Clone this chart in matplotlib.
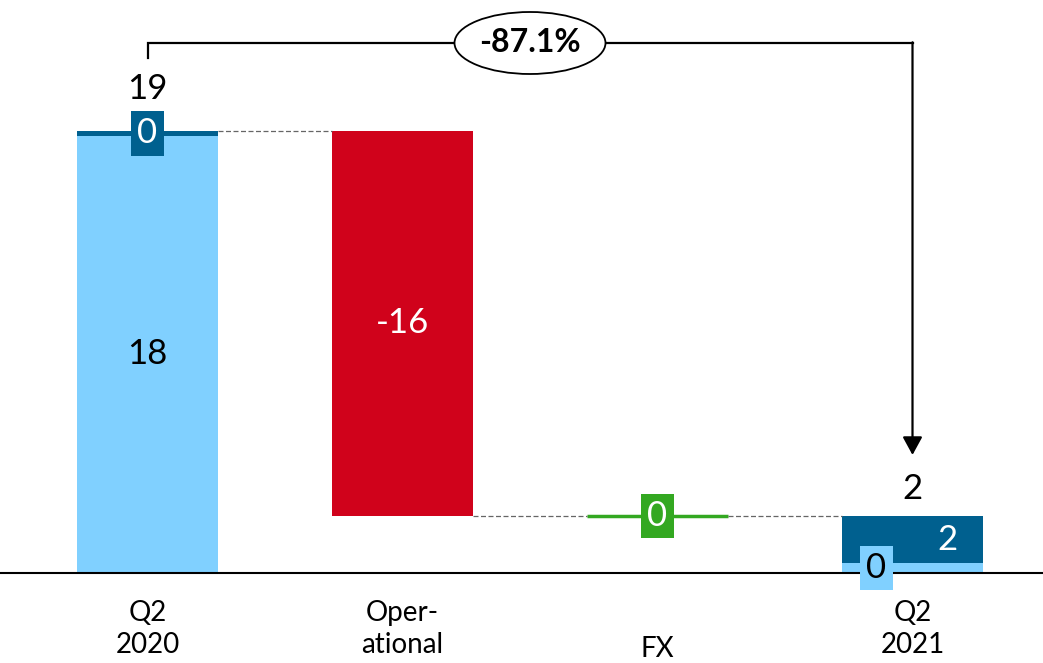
import matplotlib.pyplot as plt
from matplotlib.patches import Ellipse

# data
categories = ["Q2\n2020", "Oper-\national", "FX", "Q2\n2021"]
start_light = 18.4
start_dark = 0.2
operational = -16.2
fx = 0.0
end_light = 0.4
end_dark = 2.0

LIGHT = "#80D0FF"
DARK = "#00608F"
RED = "#D0021B"
GREEN = "#33A821"
FONT = ["Lato", "DejaVu Sans"]

start_total = start_light + start_dark
end_total = end_light + end_dark
after_op = start_total + operational
after_fx = after_op + fx
pct = (end_total / start_total - 1) * 100

# scale: px per unit in y, px per bar in x
PX_Y = 442 / start_total
PX_X = 255.0
W, H = 1043, 663

fig = plt.figure(figsize=(W / 100, H / 100), dpi=100)
ax = fig.add_axes([0, 0, 1, 1])
ax.axis("off")
ax.set_xlim(-147.5 / PX_X, (W - 147.5) / PX_X)
ax.set_ylim(-90 / PX_Y, (H - 90) / PX_Y)

bw = 141 / PX_X
ax.axhline(0, color="black", lw=1.5, zorder=5)

# bars
ax.bar(0, start_light, width=bw, color=LIGHT)
ax.bar(0, start_dark, bottom=start_light, width=bw, color=DARK)
ax.bar(1, operational, bottom=start_total, width=bw, color=RED)
ax.hlines(after_fx, 2 - bw / 2, 2 + bw / 2, color=GREEN, lw=2.5)
ax.bar(3, end_light, width=bw, color=LIGHT)
ax.bar(3, end_dark, bottom=end_light, width=bw, color=DARK)

# connectors
levels = [start_total, after_op, after_fx]
for i, lv in enumerate(levels):
    ax.plot([i + bw / 2, i + 1 - bw / 2], [lv, lv], color="#666666", lw=0.9,
            ls=(0, (4, 2)))

fs = 25
def label(x, y, s, color="black", box=None, dx=0, dy=0):
    kw = {}
    if box:
        kw["bbox"] = dict(boxstyle="square,pad=0.18", fc=box, ec="none")
    ax.annotate(s, (x, y), xytext=(dx, dy), textcoords="offset pixels",
                ha="center", va="center", fontsize=fs, color=color,
                family=FONT, zorder=6, **kw)

label(0, start_light / 2, f"{start_light:.0f}")
label(0, start_light + start_dark / 2, f"{start_dark:.0f}", "white", DARK)
label(0, start_total, f"{start_total:.0f}", dy=42)
label(1, start_total + operational / 2, f"{operational:.0f}", "white")
label(2, after_fx, f"{fx:.0f}", "white", GREEN)
label(3, end_light / 2, f"{end_light:.0f}", "black", LIGHT, dx=-36)
label(3, end_light + end_dark / 2, f"{end_dark:.0f}", "white", dx=35)
label(3, end_total, f"{end_total:.0f}", dy=27)

# x labels
for i, c in enumerate(categories):
    off = -56 if "\n" in c else -76
    ax.annotate(c, (i, 0), xytext=(0, off), textcoords="offset pixels",
                ha="center", va="center", fontsize=20, family=FONT,
                linespacing=1.25)

# bracket with change
y_low = start_total + 73 / PX_Y
y_top = start_total + 88 / PX_Y
y_tip = end_total + 61 / PX_Y
ax.plot([0, 0, 3], [y_low, y_top, y_top], color="black", lw=1.6,
        solid_joinstyle="miter", clip_on=False)
ax.annotate("", xy=(3, y_tip), xytext=(3, y_top + 0.03),
            arrowprops=dict(arrowstyle="-|>,head_length=0.55,head_width=0.3",
                            mutation_scale=20, color="black", lw=1.6,
                            shrinkA=0, shrinkB=0))
ax.add_patch(Ellipse((1.5, y_top), 151 / PX_X, 62 / PX_Y, fc="white",
                     ec="black", lw=1.3, zorder=6))
ax.text(1.5, y_top, f"{pct:.1f}%", ha="center", va="center", fontsize=23,
        fontweight="bold", family=FONT, zorder=7)

fig.savefig("out.png", dpi=100)
